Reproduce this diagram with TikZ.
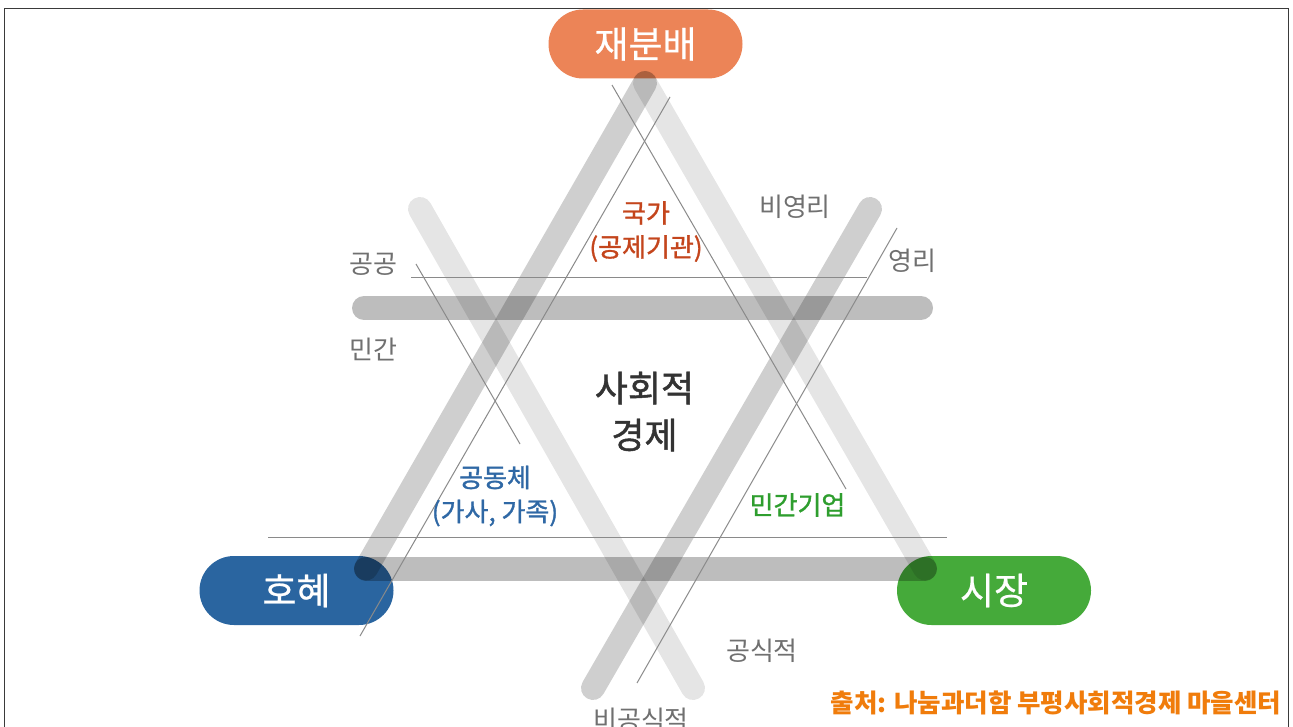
\documentclass[tikz,border=0pt]{standalone}
\usepackage{fontspec}
\setmainfont{Noto Sans CJK KR}
\newfontfamily\krsemi[FakeBold=1.2]{Noto Sans CJK KR}
\newfontfamily\krmed[FakeBold=0.6]{Noto Sans CJK KR}
\usetikzlibrary{shapes.misc}
\definecolor{pillorange}{HTML}{EC8457}
\definecolor{pillblue}{HTML}{2A65A0}
\definecolor{pillgreen}{HTML}{45AA3A}
\definecolor{statered}{HTML}{C4451C}
\definecolor{commblue}{HTML}{2F68A5}
\definecolor{bizgreen}{HTML}{2E9E2E}
\definecolor{srcorange}{HTML}{F07C0B}
\definecolor{labelgray}{HTML}{707070}
\definecolor{centergray}{HTML}{333333}
\definecolor{thingray}{HTML}{8A8A8A}
\definecolor{framegray}{HTML}{3A3A3A}
\begin{document}
\begin{tikzpicture}[x=1pt,y=-1pt,
  pill/.style={rounded rectangle, minimum width=194pt, minimum height=69pt, inner sep=0pt,
    text=white, font=\krmed\fontsize{37}{42}\selectfont},
  bandlight/.style={line width=24pt, line cap=round, draw=black, draw opacity=0.10},
  banddark/.style={line width=24pt, line cap=round, draw=black, draw opacity=0.19},
  bandhoriz/.style={line width=24pt, line cap=round, draw=black, draw opacity=0.26},
  thin/.style={draw=thingray, line width=1pt},
  axislabel/.style={text=labelgray, font=\fontsize{26}{30}\selectfont, inner sep=0pt},
  sector/.style={font=\krsemi\fontsize{26}{34}\selectfont, align=center, inner sep=0pt}
]
\useasboundingbox (0,0) rectangle (1293,727);
\fill[white] (0,0) rectangle (1293,727);
% frame
\draw[framegray, line width=1.3pt] (4.5,727) -- (4.5,8.5) -- (1288.5,8.5) -- (1288.5,727);

% pills
\node[pill, fill=pillorange] (redis) at (645.5,44) {재분배};
\node[pill, fill=pillblue] (recip) at (296.5,590.5) {호혜};
\node[pill, fill=pillgreen] (market) at (994,590.5) {시장};

% band end points
\coordinate (apex) at (645,83);
\coordinate (baseL) at (366,568.5);
\coordinate (baseR) at (925,568.5);
\coordinate (topL) at (364,308);
\coordinate (topR) at (921,308);
\coordinate (dlTop) at (420,209);
\coordinate (dlBot) at (693,688);
\coordinate (drTop) at (870,209);
\coordinate (drBot) at (593,688);

% bands
\draw[banddark] (apex) -- (baseL);
\draw[bandlight] (apex) -- (baseR);
\draw[bandhoriz] (baseL) -- (baseR);
\draw[bandhoriz] (topL) -- (topR);
\draw[bandlight] (dlTop) -- (dlBot);
\draw[banddark] (drTop) -- (drBot);

% thin lines
\coordinate (h1a) at (411,277.5);
\coordinate (h1b) at (867,277.5);
\coordinate (h2a) at (268,537.5);
\coordinate (h2b) at (947,537.5);
\coordinate (s1a) at (612,85);
\coordinate (s1b) at (846,489);
\coordinate (s2a) at (670,97);
\coordinate (s2b) at (360,636);
\coordinate (s3a) at (416,264);
\coordinate (s3b) at (520,444);
\coordinate (s4a) at (897,228);
\coordinate (s4b) at (637,683);
\draw[thin] (h1a) -- (h1b);
\draw[thin] (h2a) -- (h2b);
\draw[thin] (s1a) -- (s1b);
\draw[thin] (s2a) -- (s2b);
\draw[thin] (s3a) -- (s3b);
\draw[thin] (s4a) -- (s4b);

% axis labels
\node[axislabel] (public) at (373,264) {공공};
\node[axislabel] (private) at (373,350) {민간};
\node[axislabel] (nonprofit) at (795,207) {비영리};
\node[axislabel] (profit) at (912,261) {영리};
\node[axislabel] (formal) at (762,651) {공식적};
\node[axislabel] (informal) at (641,720) {비공식적};

% sector labels
\node[sector, text=statered] (state) at (646,231.5) {국가\\(공제기관)};
\node[sector, text=commblue] (community) at (495,496) {공동체\\(가사, 가족)};
\node[sector, text=bizgreen] (business) at (797.5,505) {민간기업};
\node[font=\krsemi\fontsize{36}{47}\selectfont, align=center, inner sep=0pt, text=centergray] (socecon) at (644.5,411.5) {사회적\\경제};

% source
\node[font=\bfseries\fontsize{25.5}{30}\selectfont, text=srcorange, inner sep=0pt] (source) at (1056,703) {출처: 나눔과더함 부평사회적경제 마을센터};
\end{tikzpicture}
\end{document}
